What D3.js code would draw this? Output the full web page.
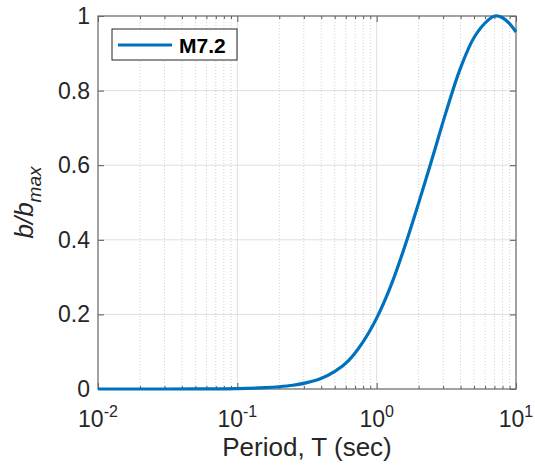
<!DOCTYPE html>
<html><head><meta charset="utf-8">
<script src="https://cdn.jsdelivr.net/npm/d3@7"></script>
<style>body{margin:0;background:#fff}svg{display:block}</style></head>
<body>
<script>
// ---- data ----
const periods = [0.01, 0.02, 0.05, 0.1, 0.158, 0.2, 0.251, 0.316, 0.398, 0.501, 0.631, 0.794, 1.0, 1.259, 1.585, 1.995, 2.512, 3.162, 3.981, 5.012, 6.310, 7.079, 7.943, 8.913, 10];
const ratio   = [0, 0, 0.0002, 0.001, 0.0035, 0.006, 0.010, 0.017, 0.028, 0.047, 0.077, 0.125, 0.190, 0.275, 0.380, 0.497, 0.620, 0.745, 0.859, 0.943, 0.989, 1.0, 0.996, 0.981, 0.957];
const seriesName = "M7.2";
const xTickValues = [0.01, 0.1, 1, 10];
const xTickExps = ["-2", "-1", "0", "1"];
const yTickValues = [0, 0.2, 0.4, 0.6, 0.8, 1];
const yTickLabels = ["0", "0.2", "0.4", "0.6", "0.8", "1"];
const xLabel = "Period, T (sec)";

// ---- layout ----
const W = 535, H = 468;
const L = 98, R = 516, T = 16, B = 389;
const font = "'Liberation Sans', Arial, Helvetica, sans-serif";
const ink = "#262626";

const svg = d3.select("body").append("svg").attr("width", W).attr("height", H)
  .style("font-family", font);

const x = d3.scaleLog().domain([0.01, 10]).range([L, R]);
const y = d3.scaleLinear().domain([0, 1]).range([B, T]);

// minor tick positions (2..9 within each decade)
const minor = [];
xTickValues.slice(0, -1).forEach(d => { for (let k = 2; k <= 9; k++) minor.push(d * k); });

// grid
const grid = svg.append("g");
grid.selectAll(".mg").data(minor).join("line")
  .attr("x1", d => x(d)).attr("x2", d => x(d)).attr("y1", T).attr("y2", B)
  .attr("stroke", "#d0d0d0").attr("stroke-width", 1).attr("stroke-dasharray", "1,2");
grid.selectAll(".vg").data(xTickValues).join("line")
  .attr("x1", d => x(d)).attr("x2", d => x(d)).attr("y1", T).attr("y2", B)
  .attr("stroke", "#e0e0e0").attr("stroke-width", 1);
grid.selectAll(".hg").data(yTickValues).join("line")
  .attr("x1", L).attr("x2", R).attr("y1", d => y(d)).attr("y2", d => y(d))
  .attr("stroke", "#e0e0e0").attr("stroke-width", 1);

// axes via d3 (ticks inside)
const gx = svg.append("g").attr("transform", `translate(0,${B})`)
  .call(d3.axisBottom(x).tickValues(xTickValues).tickSizeInner(-6).tickSizeOuter(0).tickFormat(""));
const gxm = svg.append("g").attr("transform", `translate(0,${B})`)
  .call(d3.axisBottom(x).tickValues(minor).tickSizeInner(-3).tickSizeOuter(0).tickFormat(""));
const gxt = svg.append("g").attr("transform", `translate(0,${T})`)
  .call(d3.axisTop(x).tickValues(xTickValues).tickSizeInner(-6).tickSizeOuter(0).tickFormat(""));
const gxtm = svg.append("g").attr("transform", `translate(0,${T})`)
  .call(d3.axisTop(x).tickValues(minor).tickSizeInner(-3).tickSizeOuter(0).tickFormat(""));
const gy = svg.append("g").attr("transform", `translate(${L},0)`)
  .call(d3.axisLeft(y).tickValues(yTickValues).tickSizeInner(-6).tickSizeOuter(0).tickFormat(""));
const gyr = svg.append("g").attr("transform", `translate(${R},0)`)
  .call(d3.axisRight(y).tickValues(yTickValues).tickSizeInner(-6).tickSizeOuter(0).tickFormat(""));
[gx, gxm, gxt, gxtm, gy, gyr].forEach(g => {
  g.select(".domain").remove();
  g.selectAll("line").attr("stroke", "#555").attr("stroke-width", 1);
});

// box
svg.append("rect").attr("x", L).attr("y", T).attr("width", R - L).attr("height", B - T)
  .attr("fill", "none").attr("stroke", "#6e6e6e").attr("stroke-width", 1.2);

// x tick labels with superscripts
const xl = svg.append("g").attr("fill", ink).attr("font-size", 23);
xTickValues.forEach((v, i) => {
  const t = xl.append("text").attr("x", x(v)).attr("y", 427).attr("text-anchor", "middle");
  t.append("tspan").text("10");
  t.append("tspan").attr("font-size", 16).attr("dy", -10).text(xTickExps[i]);
});
// y tick labels
svg.append("g").selectAll("text").data(yTickValues).join("text")
  .attr("x", 90).attr("y", d => y(d)).attr("dy", "0.35em").attr("text-anchor", "end")
  .attr("fill", ink).attr("font-size", 23).text((d, i) => yTickLabels[i]);

// axis titles
svg.append("text").attr("x", (L + R) / 2).attr("y", 456).attr("text-anchor", "middle")
  .attr("fill", ink).attr("font-size", 26).text(xLabel);
const yt = svg.append("text").attr("transform", `translate(33,${(T + B) / 2}) rotate(-90)`)
  .attr("text-anchor", "middle").attr("fill", ink).attr("font-size", 26).attr("font-style", "italic");
yt.append("tspan").text("b/b");
yt.append("tspan").attr("font-size", 19).attr("dy", 8).text("max");

// curve
const line = d3.line().x((d, i) => x(periods[i])).y(d => y(d)).curve(d3.curveCatmullRom.alpha(0.5));
svg.append("path").datum(ratio).attr("d", line)
  .attr("fill", "none").attr("stroke", "#0072BD").attr("stroke-width", 3.2)
  .attr("stroke-linejoin", "round").attr("stroke-linecap", "butt");

// legend
const lg = svg.append("g");
lg.append("rect").attr("x", 112).attr("y", 29).attr("width", 125).attr("height", 31)
  .attr("fill", "#fff").attr("stroke", ink).attr("stroke-width", 1);
lg.append("line").attr("x1", 118).attr("x2", 172).attr("y1", 45).attr("y2", 45)
  .attr("stroke", "#0072BD").attr("stroke-width", 3.2);
lg.append("text").attr("x", 179).attr("y", 45).attr("dy", "0.36em").attr("fill", "#000")
  .attr("font-size", 21).attr("font-weight", "bold").text(seriesName);
</script>
</body></html>
